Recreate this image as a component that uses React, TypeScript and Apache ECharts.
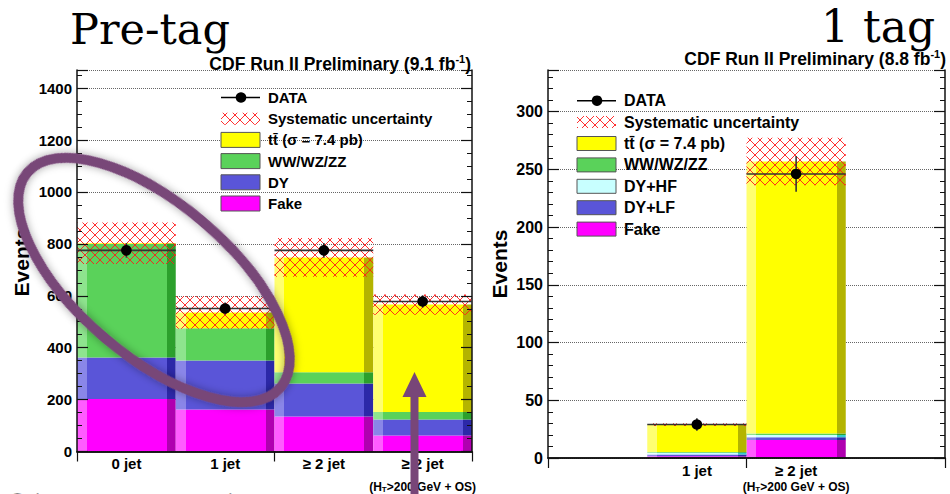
import React, { useEffect, useRef } from 'react';
import * as echarts from 'echarts';

// ---------- Pre-tag panel data ----------
const preCats = ['0 jet', '1 jet', '≥ 2 jet', '≥ 2 jet, HT>200 GeV + OS'];
const preFake = [202, 162, 135, 62];
const preDY = [160, 189, 127, 61];
const preWW = [438, 124, 43, 29];
const preTT = [2, 61, 443, 414];
const preSys = [80, 63, 75, 39];
const preData = [775, 551, 775, 578];
const preDataErr = [28, 23, 28, 24];
const preTicks = [0, 200, 400, 600, 800, 1000, 1200, 1400];

// ---------- 1 tag panel data ----------
const tagCats = ['', '1 jet', '≥ 2 jet, HT>200 GeV + OS', ' '];
const tagFake = [null, 1.5, 15.6, null];
const tagDYLF = [null, 1.5, 2.4, null];
const tagDYHF = [null, 1.5, 2.0, null];
const tagWW = [null, 0.6, 1.2, null];
const tagTT = [null, 23.8, 235.6, null];
const tagSys = [null, 1.2, 20.5, null];
const tagData = [null, 29, 246, null];
const tagDataErr = [null, 5.4, 15.5, null];
const tagTicks = [0, 50, 100, 150, 200, 250, 300];

const FONT = '"Liberation Sans", Arial, Helvetica, sans-serif';
const SERIF = '"DejaVu Serif", "Liberation Serif", serif';
const PURPLE = '#784678';

const shade = (light: string, base: string, dark: string) =>
  new echarts.graphic.LinearGradient(0, 0, 1, 0, [
    { offset: 0, color: light },
    { offset: 0.1, color: light },
    { offset: 0.1, color: base },
    { offset: 0.91, color: base },
    { offset: 0.91, color: dark },
    { offset: 1, color: dark },
  ]);

const C = {
  fake: ['#ff5cff', '#ff00ff', '#b000b0'],
  dy: ['#8a86e8', '#5a55d8', '#2c28a8'],
  ww: ['#8ee48e', '#5ad25a', '#2ca02c'],
  tt: ['#ffff70', '#ffff00', '#b4b400'],
  hf: ['#e8ffff', '#c8ffff', '#33cccc'],
};

function makeHatch() {
  const cv = document.createElement('canvas');
  cv.width = 10;
  cv.height = 10;
  const ctx = cv.getContext('2d')!;
  ctx.strokeStyle = 'rgba(255,25,25,0.9)';
  ctx.lineWidth = 1;
  ctx.beginPath();
  ctx.moveTo(-1, -1);
  ctx.lineTo(11, 11);
  ctx.moveTo(11, -1);
  ctx.lineTo(-1, 11);
  ctx.stroke();
  return { image: cv, repeat: 'repeat', imageWidth: 10, imageHeight: 10 } as any;
}

const total = (arrs: (number | null)[][], i: number) => {
  let s = 0;
  let any = false;
  arrs.forEach((a) => {
    if (a[i] != null) {
      s += a[i] as number;
      any = true;
    }
  });
  return any ? s : null;
};

function dataSeries(xi: number, yi: number, vals: (number | null)[], errs: (number | null)[]) {
  const d: any[] = [];
  vals.forEach((v, i) => {
    if (v != null) d.push([i, v, errs[i]]);
  });
  return {
    type: 'custom',
    xAxisIndex: xi,
    yAxisIndex: yi,
    silent: true,
    z: 10,
    data: d,
    encode: { x: 0, y: 1 },
    renderItem: (params: any, api: any) => {
      const x = api.value(0);
      const y = api.value(1);
      const e = api.value(2);
      const c = api.coord([x, y]);
      const bw = api.size([1, 0])[0];
      const t = api.coord([x, y + e]);
      const b = api.coord([x, y - e]);
      return {
        type: 'group',
        children: [
          { type: 'line', shape: { x1: c[0] - bw / 2, y1: c[1], x2: c[0] + bw / 2, y2: c[1] }, style: { stroke: '#333', lineWidth: 1.6 } },
          { type: 'line', shape: { x1: c[0], y1: t[1], x2: c[0], y2: b[1] }, style: { stroke: '#333', lineWidth: 1.6 } },
          { type: 'circle', shape: { cx: c[0], cy: c[1], r: 5.3 }, style: { fill: '#000' } },
        ],
      };
    },
  };
}

function barSeries(name: string, xi: number, yi: number, vals: (number | null)[], col: string[]) {
  return {
    name,
    type: 'bar',
    stack: 'mc' + xi,
    xAxisIndex: xi,
    yAxisIndex: yi,
    silent: true,
    barCategoryGap: '0%',
    barGap: '-100%',
    itemStyle: { color: shade(col[0], col[1], col[2]) },
    data: vals.map((v) => (v == null ? '-' : v)),
  };
}

function bandSeries(xi: number, yi: number, comps: (number | null)[][], sys: (number | null)[], hatch: any) {
  const base = sys.map((s, i) => {
    const t = total(comps, i);
    return t == null || s == null ? '-' : t - s;
  });
  const h = sys.map((s) => (s == null ? '-' : 2 * s));
  return [
    {
      type: 'bar', stack: 'band' + xi, xAxisIndex: xi, yAxisIndex: yi, silent: true,
      barCategoryGap: '0%', barGap: '-100%', itemStyle: { color: 'transparent' }, data: base,
    },
    {
      type: 'bar', stack: 'band' + xi, xAxisIndex: xi, yAxisIndex: yi, silent: true,
      barCategoryGap: '0%', barGap: '-100%', itemStyle: { color: hatch }, data: h,
    },
  ];
}

function yAxes(grid: number, max: number, interval: number, minorSplit: number, fs: number) {
  const common = { gridIndex: grid, type: 'value', min: 0, max, interval };
  return [
    {
      ...common,
      position: 'left',
      z: 5,
      axisLine: { show: true, lineStyle: { color: '#111', width: 1.5 } },
      axisTick: { show: true, inside: true, length: 11, lineStyle: { color: '#111', width: 1.2 } },
      minorTick: { show: true, splitNumber: minorSplit, length: 5, lineStyle: { color: '#111', width: 1 } },
      axisLabel: {
        show: true, margin: 5, color: '#000', fontSize: fs, fontWeight: 'bold', fontFamily: FONT,
        showMaxLabel: false,
        formatter: (v: number) => (v % interval === 0 ? String(v) : ''),
      },
      splitLine: { show: false },
    },
    {
      ...common,
      position: 'right',
      z: 5,
      axisLine: { show: true, lineStyle: { color: '#111', width: 1.5 } },
      axisTick: { show: true, inside: true, length: 11, lineStyle: { color: '#111', width: 1.2 } },
      minorTick: { show: true, splitNumber: minorSplit, length: 5, lineStyle: { color: '#111', width: 1 } },
      axisLabel: { show: false },
      splitLine: { show: false },
    },
    {
      ...common,
      position: 'left',
      z: 0,
      axisLine: { show: false },
      axisTick: { show: false },
      axisLabel: { show: false },
      splitLine: { show: true, lineStyle: { color: '#666', type: 'dotted', width: 1 } },
    },
  ];
}

function xAxes(grid: number, cats: string[], fs: number, lh2: number) {
  return [
    {
      gridIndex: grid, type: 'category', data: cats, position: 'bottom', z: 5,
      axisLine: { show: true, lineStyle: { color: '#111', width: 1.5 } },
      axisTick: { show: false },
      axisLabel: {
        show: true, interval: 0, margin: 3, color: '#000', fontSize: fs, fontWeight: 'bold', fontFamily: FONT,
        lineHeight: 18,
        formatter: (v: string) => (v.indexOf('HT') >= 0 ? '≥ 2 jet\n{s|(H}{sub|T}{s|>200 GeV + OS)}' : v),
        rich: {
          s: { fontSize: 12, fontWeight: 'bold', fontFamily: FONT, color: '#000', lineHeight: lh2 },
          sub: { fontSize: 8, fontWeight: 'bold', fontFamily: FONT, color: '#000', lineHeight: 10, padding: [5, 0, 0, 0], verticalAlign: 'middle' },
        },
      },
      splitLine: { show: false },
    },
    {
      gridIndex: grid, type: 'category', data: cats, position: 'top', z: 5,
      axisLine: { show: true, lineStyle: { color: '#111', width: 1.5 } },
      axisTick: { show: true, inside: true, length: 10, lineStyle: { color: '#111', width: 1.2 } },
      axisLabel: { show: false },
      splitLine: { show: false },
    },
  ];
}

function legend(x0: number, y0: number, dy: number, fs: number, boxH: number, rows: { label: string; color?: string; kind: string }[], hatch: any) {
  const els: any[] = [];
  rows.forEach((r, i) => {
    const y = y0 + i * dy;
    if (r.kind === 'data') {
      els.push({ type: 'line', z: 50, shape: { x1: x0, y1: y, x2: x0 + 39, y2: y }, style: { stroke: '#000', lineWidth: 1.6 } });
      els.push({ type: 'circle', z: 50, shape: { cx: x0 + 20, cy: y, r: 5.3 }, style: { fill: '#000' } });
    } else if (r.kind === 'hatch') {
      els.push({ type: 'rect', z: 50, shape: { x: x0, y: y - 6, width: 39, height: 12 }, style: { fill: hatch } });
    } else {
      els.push({ type: 'rect', z: 50, shape: { x: x0, y: y - boxH / 2, width: 39, height: boxH }, style: { fill: r.color, stroke: '#555', lineWidth: 1 } });
    }
    els.push({
      type: 'text', z: 50,
      style: { text: r.label, x: x0 + 47, y, font: `bold ${fs}px ${FONT}`, fill: '#000', align: 'left', textAlign: 'left', verticalAlign: 'middle', textVerticalAlign: 'middle' },
    });
  });
  return els;
}

const titleRich = {
  a: { fontSize: 17.5, fontWeight: 'bold', fontFamily: FONT, fill: '#000', color: '#000', lineHeight: 20, verticalAlign: 'bottom' },
  s: { fontSize: 11, fontWeight: 'bold', fontFamily: FONT, fill: '#000', color: '#000', lineHeight: 20, verticalAlign: 'top' },
};

export default function App() {
  const ref = useRef<HTMLDivElement>(null);
  useEffect(() => {
    if (!ref.current) return;
    const chart = echarts.init(ref.current, undefined, { renderer: 'svg' });
    const hatch = makeHatch();

    const preComps = [preFake, preDY, preWW, preTT];
    const tagComps = [tagFake, tagDYLF, tagDYHF, tagWW, tagTT];

    const graphic: any[] = [
      // Titles
      {
        type: 'text', z: 40,
        style: {
          text: '{a|CDF Run II Preliminary (9.1 fb}{s|-1}{a|)}', x: 471, y: 63, align: 'right', textAlign: 'right',
          verticalAlign: 'middle', textVerticalAlign: 'middle', rich: titleRich,
        },
      },
      {
        type: 'text', z: 40,
        style: {
          text: '{a|CDF Run II Preliminary (8.8 fb}{s|-1}{a|)}', x: 946, y: 58, align: 'right', textAlign: 'right',
          verticalAlign: 'middle', textVerticalAlign: 'middle', rich: titleRich,
        },
      },
      {
        type: 'text', z: 60,
        style: { text: 'Pre-tag', x: 70, y: 29, font: `43px ${SERIF}`, fill: '#000', align: 'left', textAlign: 'left', verticalAlign: 'middle', textVerticalAlign: 'middle' },
      },
      {
        type: 'text', z: 60,
        style: { text: '1 tag', x: 821, y: 26, font: `44px ${SERIF}`, fill: '#000', align: 'left', textAlign: 'left', verticalAlign: 'middle', textVerticalAlign: 'middle' },
      },
      // Y axis titles
      {
        type: 'text', z: 40, x: 21, y: 262, rotation: Math.PI / 2,
        style: { text: 'Events', x: 0, y: 0, font: `bold 21px ${FONT}`, fill: '#000', align: 'center', textAlign: 'center', verticalAlign: 'middle', textVerticalAlign: 'middle' },
      },
      {
        type: 'text', z: 40, x: 499, y: 264, rotation: Math.PI / 2,
        style: { text: 'Events', x: 0, y: 0, font: `bold 21px ${FONT}`, fill: '#000', align: 'center', textAlign: 'center', verticalAlign: 'middle', textVerticalAlign: 'middle' },
      },
      // mask cutting the left panel's long label
      { type: 'rect', z: 45, shape: { x: 477, y: 474, width: 22, height: 20 }, style: { fill: '#fff' } },
      // bottom partially visible annotation text
      {
        type: 'text', z: 40,
        style: { text: 'Signal Region', x: 4, y: 489, font: `40px ${SERIF}`, fill: '#000', align: 'left', textAlign: 'left', verticalAlign: 'top', textVerticalAlign: 'top' },
      },
      // purple ellipse annotation
      {
        type: 'ellipse', z: 70, x: 154, y: 280, rotation: -0.705,
        shape: { cx: 0, cy: 0, rx: 166, ry: 76 },
        style: { fill: 'none', stroke: PURPLE, lineWidth: 10, shadowBlur: 8, shadowColor: 'rgba(0,0,0,0.35)' },
      },
      // purple arrow
      { type: 'rect', z: 70, shape: { x: 410.5, y: 395, width: 8, height: 100 }, style: { fill: PURPLE } },
      { type: 'polygon', z: 70, shape: { points: [[414.5, 372], [402.5, 397], [426.5, 397]] }, style: { fill: PURPLE } },
    ];

    graphic.push(
      ...legend(221, 97.5, 21.2, 15, 15, [
        { label: 'DATA', kind: 'data' },
        { label: 'Systematic uncertainty', kind: 'hatch' },
        { label: 'tt\u0304 (σ = 7.4 pb)', kind: 'box', color: C.tt[1] },
        { label: 'WW/WZ/ZZ', kind: 'box', color: C.ww[1] },
        { label: 'DY', kind: 'box', color: C.dy[1] },
        { label: 'Fake', kind: 'box', color: C.fake[1] },
      ], hatch),
      ...legend(577, 100.7, 21.4, 16, 14, [
        { label: 'DATA', kind: 'data' },
        { label: 'Systematic uncertainty', kind: 'hatch' },
        { label: 'tt\u0304 (σ = 7.4 pb)', kind: 'box', color: C.tt[1] },
        { label: 'WW/WZ/ZZ', kind: 'box', color: C.ww[1] },
        { label: 'DY+HF', kind: 'box', color: C.hf[1] },
        { label: 'DY+LF', kind: 'box', color: C.dy[1] },
        { label: 'Fake', kind: 'box', color: C.fake[1] },
      ], hatch),
    );

    const option: any = {
      animation: false,
      backgroundColor: '#fff',
      textStyle: { fontFamily: FONT },
      grid: [
        { left: 77, top: 70, width: 395, height: 381.5, outerBoundsMode: 'none', containLabel: false },
        { left: 548, top: 70, width: 397, height: 388, outerBoundsMode: 'none', containLabel: false },
      ],
      xAxis: [...xAxes(0, preCats, 15, 29), ...xAxes(1, tagCats, 15, 16)],
      yAxis: [
        ...yAxes(0, 1470, preTicks[1] - preTicks[0], 4, 15),
        ...yAxes(1, 336, tagTicks[1] - tagTicks[0], 5, 16),
      ],
      series: [
        barSeries('Fake', 0, 0, preFake, C.fake),
        barSeries('DY', 0, 0, preDY, C.dy),
        barSeries('WW/WZ/ZZ', 0, 0, preWW, C.ww),
        barSeries('ttbar', 0, 0, preTT, C.tt),
        ...bandSeries(0, 0, preComps, preSys, hatch),
        dataSeries(0, 0, preData, preDataErr),

        barSeries('Fake', 2, 3, tagFake, C.fake),
        barSeries('DY+LF', 2, 3, tagDYLF, C.dy),
        barSeries('DY+HF', 2, 3, tagDYHF, C.hf),
        barSeries('WW/WZ/ZZ', 2, 3, tagWW, C.ww),
        barSeries('ttbar', 2, 3, tagTT, C.tt),
        ...bandSeries(2, 3, tagComps, tagSys, hatch),
        dataSeries(2, 3, tagData, tagDataErr),
      ],
      graphic,
    };
    chart.setOption(option);
    return () => chart.dispose();
  }, []);
  return <div ref={ref} style={{ position: 'absolute', left: 0, top: 0, width: 950, height: 494, background: '#fff' }} />;
}
